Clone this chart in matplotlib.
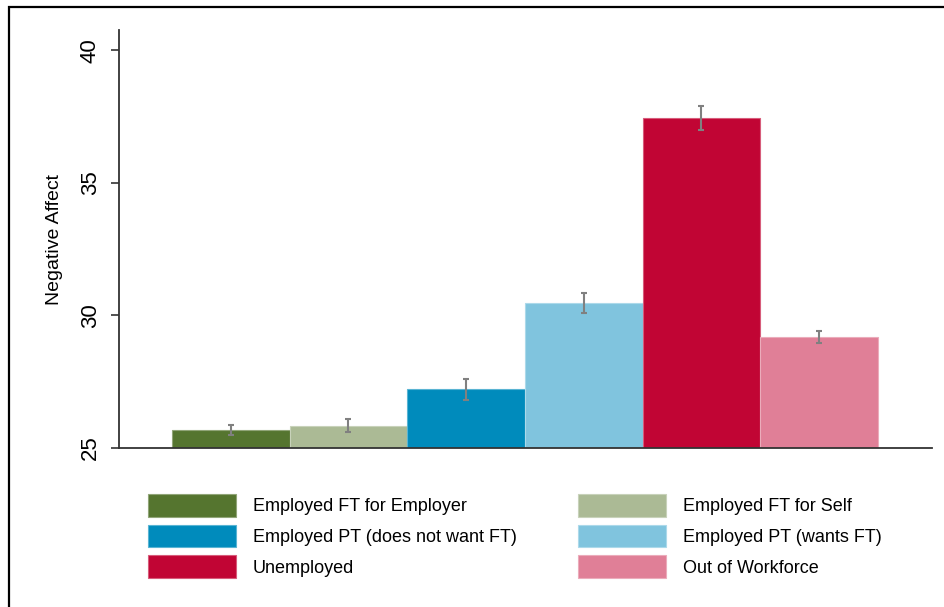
import matplotlib.pyplot as plt
import matplotlib.patches as mpatches
from matplotlib.colors import to_rgb
import numpy as np

plt.rcParams['font.family'] = ['Liberation Sans', 'DejaVu Sans']

groups = ["Employed FT for Employer", "Employed FT for Self",
          "Employed PT (does not want FT)", "Employed PT (wants FT)",
          "Unemployed", "Out of Workforce"]
means = [25.68, 25.84, 27.21, 30.46, 37.44, 29.18]
errors = [0.17, 0.25, 0.40, 0.38, 0.45, 0.23]
colors = ["#55752f", "#abba95", "#008bbc", "#80c4de", "#c10534", "#e07f97"]


def lighter(c, amt=0.35):
    r, g, b = to_rgb(c)
    return (r + (1 - r) * amt, g + (1 - g) * amt, b + (1 - b) * amt)


fig = plt.figure(figsize=(9.44, 6.07), dpi=100)
ax = fig.add_axes([0.1261, 0.2619, 0.8612, 0.6887])

x = np.arange(len(groups))
bars = ax.bar(x, np.array(means) - 25, width=1.0, bottom=25, color=colors,
              edgecolor=[lighter(c) for c in colors], linewidth=0.8, zorder=2)
ax.errorbar(x, means, yerr=errors, fmt='none', ecolor='#808080',
            elinewidth=1.5, capsize=2.5, capthick=1.5, zorder=3)

ax.set_ylim(25, 40.77)
ax.set_xlim(-0.95, 5.96)
ax.set_yticks([25, 30, 35, 40])
ax.set_yticklabels(["25", "30", "35", "40"], rotation=90, va='center',
                   fontsize=16)
ax.set_xticks([])
ax.tick_params(axis='y', length=6, width=1.2, color='#333333', pad=7)
ax.set_ylabel("Negative Affect", fontsize=14, labelpad=12)

for s in ['top', 'right']:
    ax.spines[s].set_visible(False)
for s in ['left', 'bottom']:
    ax.spines[s].set_color('#333333')
    ax.spines[s].set_linewidth(1.3)

# legend: column-major fill, so reorder to get rows as in the original
handles = [mpatches.Patch(facecolor=c, edgecolor=lighter(c), linewidth=0.8, label=g)
           for c, g in zip(colors, groups)]
order = [0, 2, 4, 1, 3, 5]
fig.legend([handles[i] for i in order], [groups[i] for i in order],
           ncol=2, loc='upper left', bbox_to_anchor=(148 / 944, 1 - 494 / 607),
           frameon=False, fontsize=13, handlelength=4.9, handleheight=1.55,
           handletextpad=0.9, columnspacing=3.4, labelspacing=0.45,
           borderpad=0, borderaxespad=0)

# page frame around the chart (cropped on right and bottom)
frame = mpatches.Rectangle((9 / 944, -0.1), 1.2, 1 - 7 / 607 + 0.1,
                           transform=fig.transFigure, fill=False,
                           edgecolor='black', linewidth=1.6, clip_on=False)
fig.add_artist(frame)

fig.savefig("out.png", dpi=100)
